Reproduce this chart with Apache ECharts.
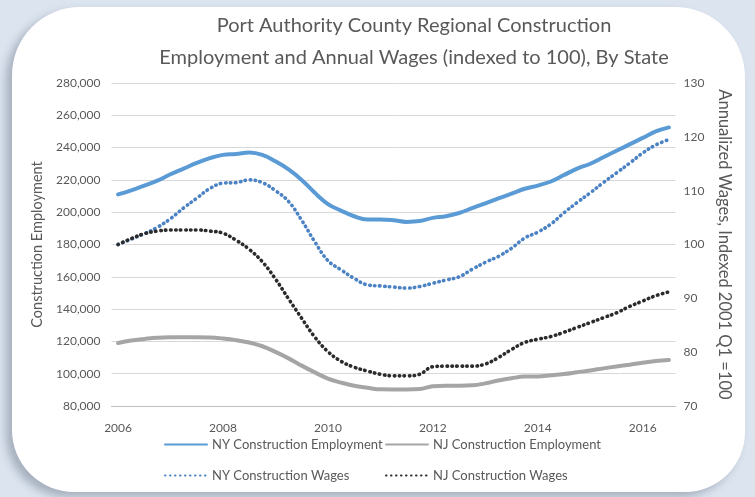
<!DOCTYPE html>
<html>
<head>
<meta charset="utf-8">
<script src="https://cdn.jsdelivr.net/npm/echarts@6/dist/echarts.min.js"></script>
<style>
  html, body { margin: 0; padding: 0; background: #dbe4ef; }
  #panel {
    position: absolute; left: 12px; top: 7px; width: 733px; height: 485px;
    background: #ffffff; border-radius: 68px 70px 60px 62px;
    box-shadow: -6px 5px 8px rgba(70, 80, 100, 0.35);
  }
  #chart { position: absolute; left: 0; top: 0; width: 755px; height: 497px; }
</style>
</head>
<body>
<div id="panel"></div>
<div id="chart"></div>
<script>
// quarterly points, 2006 Q1 .. 2016 Q3
const years = [2006, 2007, 2008, 2009, 2010, 2011, 2012, 2013, 2014, 2015, 2016];
const quarters = [];
years.forEach(y => {
    for (let q = 1; q <= 4; q++) {
        if (y === 2016 && q > 3) break;
        quarters.push(y + ' Q' + q);
    }
});

// construction employment (left axis, jobs)
const nyEmployment = [211000, 213500, 216500, 219500, 223500, 227000, 230500, 233500, 235500, 236000,
    237000, 235500, 231500, 226500, 220000, 212000, 205000, 201000, 197500, 195500,
    195500, 195000, 194000, 194500, 196500, 197500, 199500, 202500, 205500, 208500,
    211500, 214500, 216500, 219000, 223000, 227000, 230000, 234000, 238000, 242000,
    246000, 250000, 252500];
const njEmployment = [119000, 120500, 121500, 122300, 122500, 122500, 122500, 122400, 121800, 120800,
    119300, 117000, 113500, 109500, 105000, 100800, 97000, 94500, 92500, 91300,
    90300, 90200, 90200, 90500, 92300, 92600, 92600, 92800, 94000, 95800,
    97200, 98200, 98300, 99000, 99800, 100900, 102000, 103300, 104500, 105600,
    106800, 107800, 108500];

// annualized wages, indexed (right axis)
const nyWages = [100, 101, 102, 103.2, 104.8, 106.8, 108.6, 110.4, 111.4, 111.5,
    112, 111.5, 110, 108, 104.5, 100.5, 97, 95.3, 93.7, 92.5,
    92.3, 92.1, 91.9, 92.2, 92.8, 93.4, 94, 95.4, 96.7, 97.8,
    99.3, 101.2, 102.3, 103.8, 105.9, 107.8, 109.6, 111.5, 113.3, 115.1,
    117, 118.5, 119.5];
const njWages = [100, 101.1, 102, 102.5, 102.7, 102.7, 102.7, 102.5, 102.1, 100.8,
    99.1, 96.8, 93.6, 89.9, 86.3, 82.8, 80.1, 78.3, 77.2, 76.5,
    75.9, 75.6, 75.6, 75.9, 77.3, 77.4, 77.4, 77.4, 77.8, 79,
    80.5, 81.8, 82.4, 82.9, 83.7, 84.6, 85.5, 86.4, 87.3, 88.5,
    89.5, 90.5, 91.2];

const seriesNames = ['NY Construction Employment', 'NJ Construction Employment',
    'NY Construction Wages', 'NJ Construction Wages'];

const font = 'Lato, "Open Sans", sans-serif';
const textGray = '#595959';

const chart = echarts.init(document.getElementById('chart'));

const legendBase = {
    padding: 0,
    itemWidth: 42,
    itemHeight: 4,
    itemStyle: { opacity: 0 },
    textStyle: { color: textGray, fontSize: 13, fontFamily: font }
};

const option = {
    backgroundColor: 'transparent',
    animation: false,
    title: {
        text: 'Port Authority County Regional Construction\nEmployment and Annual Wages (indexed to 100), By State',
        left: 409,
        top: 5,
        textAlign: 'center',
        textStyle: {
            color: textGray, fontSize: 20, fontWeight: 'normal',
            lineHeight: 32, fontFamily: font
        }
    },
    legend: [
        Object.assign({ data: [seriesNames[0]], left: 164, top: 438 }, legendBase),
        Object.assign({ data: [seriesNames[1]], left: 385, top: 438 }, legendBase),
        Object.assign({ data: [seriesNames[2]], left: 164, top: 469 }, legendBase),
        Object.assign({ data: [seriesNames[3]], left: 385, top: 469 }, legendBase)
    ],
    grid: { left: 111.5, right: 79.5, top: 83, bottom: 91 },
    xAxis: {
        type: 'category',
        data: quarters,
        boundaryGap: true,
        axisLine: { lineStyle: { color: '#bfbfbf' } },
        axisTick: { interval: 1, length: 5, lineStyle: { color: '#bfbfbf' } },
        axisLabel: {
            interval: 7,
            margin: 16,
            color: textGray, fontSize: 12, fontFamily: font,
            formatter: v => v.slice(0, 4)
        }
    },
    yAxis: [
        {
            type: 'value',
            min: 80000, max: 280000, interval: 20000,
            name: 'Construction Employment',
            nameLocation: 'middle',
            nameGap: 66,
            nameTextStyle: { color: textGray, fontSize: 14.5, fontFamily: font },
            axisLabel: {
                margin: 11,
                color: textGray, fontSize: 12, fontFamily: font,
                formatter: v => v.toLocaleString('en-US')
            },
            splitLine: { lineStyle: { color: '#d9d9d9' } }
        },
        {
            type: 'value',
            min: 70, max: 130, interval: 10,
            name: 'Annualized Wages, Indexed 2001 Q1 =100',
            nameLocation: 'middle',
            nameRotate: -90,
            nameGap: 40,
            nameTextStyle: { color: textGray, fontSize: 16.5, fontFamily: font },
            axisLabel: { margin: 8, color: textGray, fontSize: 12, fontFamily: font },
            splitLine: { show: false }
        }
    ],
    series: [
        {
            name: seriesNames[0], type: 'line', yAxisIndex: 0, data: nyEmployment,
            smooth: 0.4, symbol: 'none', color: '#5b9bd5',
            lineStyle: { width: 4, color: '#5b9bd5', cap: 'round' }
        },
        {
            name: seriesNames[1], type: 'line', yAxisIndex: 0, data: njEmployment,
            smooth: 0.4, symbol: 'none', color: '#a5a5a5',
            lineStyle: { width: 4, color: '#a5a5a5', cap: 'round' }
        },
        {
            name: seriesNames[2], type: 'line', yAxisIndex: 1, data: nyWages,
            smooth: 0.4, symbol: 'none', color: '#4a82c4',
            lineStyle: { width: 3.6, color: '#4a82c4', type: [0.5, 4.5], cap: 'round' }
        },
        {
            name: seriesNames[3], type: 'line', yAxisIndex: 1, data: njWages,
            smooth: 0.4, symbol: 'none', color: '#2b2b2b',
            lineStyle: { width: 3.6, color: '#2b2b2b', type: [0.5, 4.5], cap: 'round' }
        }
    ]
};

chart.setOption(option);
</script>
</body>
</html>
